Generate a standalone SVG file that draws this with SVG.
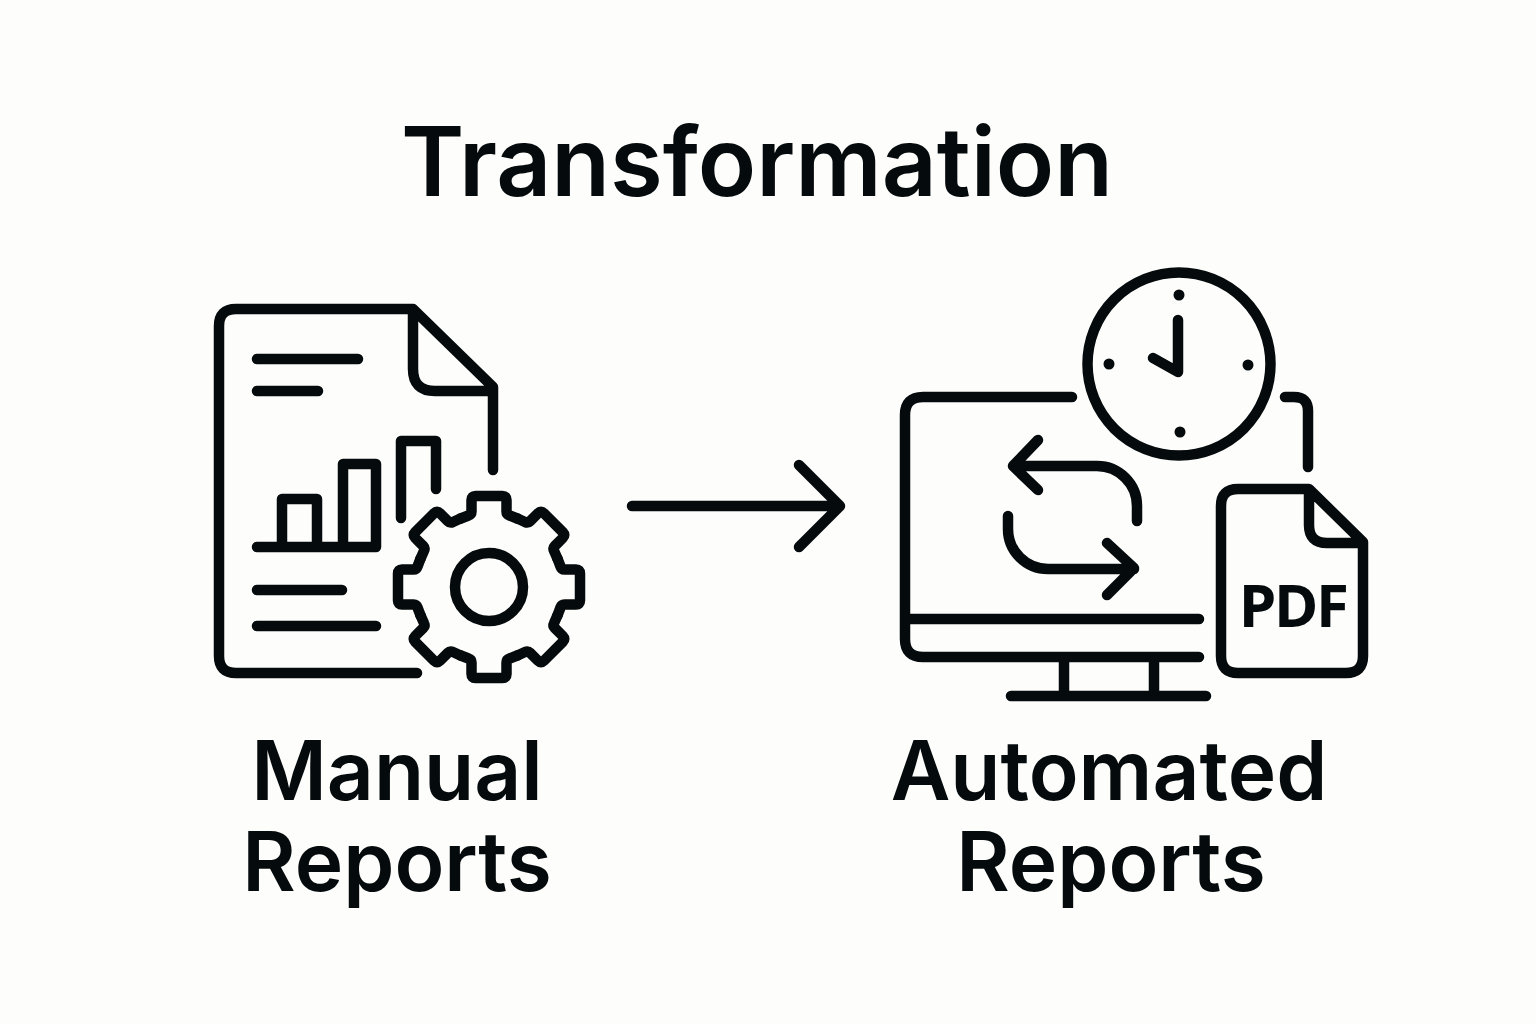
<svg xmlns="http://www.w3.org/2000/svg" width="1536" height="1024" viewBox="0 0 1536 1024">
<style>
.l{fill:none;stroke:#050a0c;stroke-width:10.5;stroke-linecap:round;stroke-linejoin:round}
.d{fill:#050a0c}
text{font-family:Inter,"Liberation Sans",sans-serif;font-weight:560;fill:#050a0c;text-anchor:middle}
.t{font-size:96px}.s{font-size:82px}
</style>
<defs><path id="tooth" class="l" d="M-28.3 -68.5L-20.5 -71.5Q-17.5 -72.5 -17.5 -75.5V-87Q-17.5 -91 -13.5 -91H13.5Q17.5 -91 17.5 -87V-75.5Q17.5 -72.5 20.5 -71.5L28.3 -68.5"/></defs>
<rect width="1536" height="1024" fill="#fdfdfb"/>
<text class="t" x="757" y="196">Transformation</text>
<g id="manual"><path class="l" d="M417 673H236Q219 673 219 656V326Q219 309 236 309H413L493 387V470M413 309V369Q413 391 435 391H493M257 359H358M257 391H318M257 547H376V464H343V547M282 547V499H317V547M401 518V441H436V489M257 590H342M257 626H376"/>
<g id="gear" transform="translate(489 587)"><use href="#tooth"/><use href="#tooth" transform="rotate(45)"/><use href="#tooth" transform="rotate(90)"/><use href="#tooth" transform="rotate(135)"/><use href="#tooth" transform="rotate(180)"/><use href="#tooth" transform="rotate(225)"/><use href="#tooth" transform="rotate(270)"/><use href="#tooth" transform="rotate(315)"/>
<circle class="l" r="34"/></g></g>
<g id="automated"><g id="clock"><circle class="l" cx="1179" cy="364" r="91.5"/>
<circle class="d" cx="1179" cy="295" r="5.5"/><circle class="d" cx="1180" cy="432" r="5.5"/><circle class="d" cx="1109" cy="364" r="5.5"/><circle class="d" cx="1248" cy="365" r="5.5"/>
<path class="l" d="M1178 320V372L1153 358"/></g>
<g id="monitor"><path class="l" d="M1072 397H923Q905 397 905 415V639Q905 657 923 657H1199M905 619H1199M1064 657V696M1154 657V696M1011 696H1206"/>
<path class="l" d="M1137 521V506A40 40 0 0 0 1097 466H1013M1038 440L1013 466L1038 490M1008 516V529A40 40 0 0 0 1048 569H1134M1107 543L1134 568L1107 595"/></g>
<path class="l" d="M1285 397H1294Q1308 397 1308 411V467"/>
<g id="pdf"><path class="l" d="M1309 489H1238Q1221 489 1221 506V656Q1221 673 1238 673H1346Q1363 673 1363 656V542L1309 489V525Q1309 543 1327 543H1363"/>
<text x="1293" y="627" style="font-family:'Noto Sans',sans-serif;font-weight:700;font-size:60px;letter-spacing:-2px">PDF</text></g></g>
<g id="connectors"><path class="l" d="M632 506H840M799 465L840 506L799 547"/></g>
<text class="s" x="397" y="800">Manual</text><text class="s" x="397" y="891">Reports</text>
<text class="s" x="1109" y="800">Automated</text><text class="s" x="1111" y="891">Reports</text>
</svg>
